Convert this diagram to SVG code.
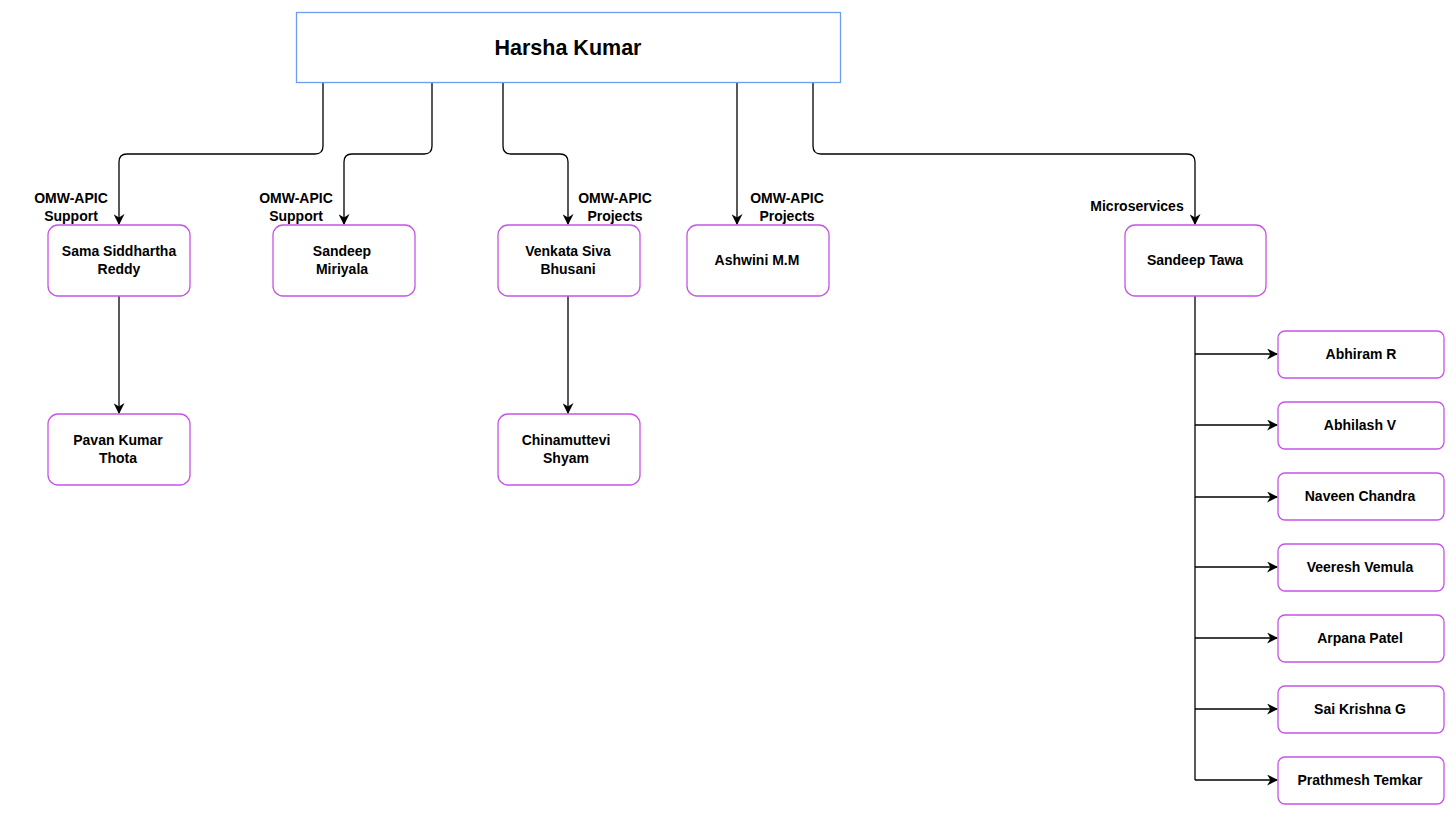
<svg xmlns="http://www.w3.org/2000/svg" width="1456" height="818" viewBox="0 0 1456 818">
<style>
text{font-family:"Liberation Sans",Arial,sans-serif;font-weight:bold;fill:#000;text-anchor:middle}
.n{font-size:14px}
.root{fill:#fff;stroke:#6d9eeb;stroke-width:1.3}
.box{fill:#fff;stroke:#c653e8;stroke-width:1.3}
.e{fill:none;stroke:#000;stroke-width:1.3}
</style>
<defs>
<marker id="arr" viewBox="0 0 10 10" refX="9" refY="5" markerWidth="11" markerHeight="11" markerUnits="userSpaceOnUse" orient="auto">
<path d="M0,0 L10,5 L0,10 L3,5 Z" fill="#000"/>
</marker>
</defs>
<rect width="1456" height="818" fill="#fff"/>
<g id="connectors">
<path class="e" marker-end="url(#arr)" d="M323,83 V146 Q323,154 315,154 H127 Q119,154 119,162 V224"/>
<path class="e" marker-end="url(#arr)" d="M432,83 V146 Q432,154 424,154 H352 Q344,154 344,162 V224"/>
<path class="e" marker-end="url(#arr)" d="M503,83 V146 Q503,154 511,154 H560 Q568,154 568,162 V224"/>
<path class="e" marker-end="url(#arr)" d="M737,83 V224"/>
<path class="e" marker-end="url(#arr)" d="M813,83 V146 Q813,154 821,154 H1187 Q1195,154 1195,162 V224"/>
<path class="e" marker-end="url(#arr)" d="M119,296 V413"/>
<path class="e" marker-end="url(#arr)" d="M568,296 V413"/>
<path class="e" d="M1195,296 V780"/>
<path class="e" marker-end="url(#arr)" d="M1195,354 H1277"/>
<path class="e" marker-end="url(#arr)" d="M1195,425 H1277"/>
<path class="e" marker-end="url(#arr)" d="M1195,497 H1277"/>
<path class="e" marker-end="url(#arr)" d="M1195,567 H1277"/>
<path class="e" marker-end="url(#arr)" d="M1195,638 H1277"/>
<path class="e" marker-end="url(#arr)" d="M1195,709 H1277"/>
<path class="e" marker-end="url(#arr)" d="M1195,780 H1277"/>
<text class="n" x="71" y="203">OMW-APIC</text>
<text class="n" x="71" y="221">Support</text>
<text class="n" x="296" y="203">OMW-APIC</text>
<text class="n" x="296" y="221">Support</text>
<text class="n" x="615" y="203">OMW-APIC</text>
<text class="n" x="615" y="221">Projects</text>
<text class="n" x="787" y="203">OMW-APIC</text>
<text class="n" x="787" y="221">Projects</text>
<text class="n" x="1137" y="211">Microservices</text>
</g>
<g id="harsha">
<rect class="root" x="296.5" y="12.5" width="544" height="70"/>
<text x="568" y="55" style="font-size:21.5px">Harsha Kumar</text>
</g>
<g id="sama">
<rect class="box" x="48" y="225" width="142" height="71" rx="10"/>
<text class="n" x="119" y="256">Sama Siddhartha</text>
<text class="n" x="119" y="274">Reddy</text>
</g>
<g id="sandeep-m">
<rect class="box" x="273" y="225" width="142" height="71" rx="10"/>
<text class="n" x="342" y="256">Sandeep</text>
<text class="n" x="342" y="274">Miriyala</text>
</g>
<g id="venkata">
<rect class="box" x="498" y="225" width="142" height="71" rx="10"/>
<text class="n" x="568" y="256">Venkata Siva</text>
<text class="n" x="568" y="274">Bhusani</text>
</g>
<g id="ashwini">
<rect class="box" x="687" y="225" width="142" height="71" rx="10"/>
<text class="n" x="757" y="265">Ashwini M.M</text>
</g>
<g id="sandeep-t">
<rect class="box" x="1125" y="225" width="141" height="71" rx="10"/>
<text class="n" x="1195" y="265">Sandeep Tawa</text>
</g>
<g id="pavan">
<rect class="box" x="48" y="414" width="142" height="71" rx="10"/>
<text class="n" x="118" y="445">Pavan Kumar</text>
<text class="n" x="118" y="463">Thota</text>
</g>
<g id="chinamuttevi">
<rect class="box" x="498" y="414" width="142" height="71" rx="10"/>
<text class="n" x="566" y="445">Chinamuttevi</text>
<text class="n" x="566" y="463">Shyam</text>
</g>
<g id="abhiram">
<rect class="box" x="1278" y="331" width="166" height="47" rx="7"/>
<text class="n" x="1361" y="359">Abhiram R</text>
</g>
<g id="abhilash">
<rect class="box" x="1278" y="402" width="166" height="47" rx="7"/>
<text class="n" x="1360" y="430">Abhilash V</text>
</g>
<g id="naveen">
<rect class="box" x="1278" y="473" width="166" height="47" rx="7"/>
<text class="n" x="1360" y="501">Naveen Chandra</text>
</g>
<g id="veeresh">
<rect class="box" x="1278" y="544" width="166" height="47" rx="7"/>
<text class="n" x="1360" y="572">Veeresh Vemula</text>
</g>
<g id="arpana">
<rect class="box" x="1278" y="615" width="166" height="47" rx="7"/>
<text class="n" x="1360" y="643">Arpana Patel</text>
</g>
<g id="sai">
<rect class="box" x="1278" y="686" width="166" height="47" rx="7"/>
<text class="n" x="1360" y="714">Sai Krishna G</text>
</g>
<g id="prathmesh">
<rect class="box" x="1278" y="757" width="166" height="47" rx="7"/>
<text class="n" x="1360" y="785">Prathmesh Temkar</text>
</g>
</svg>
